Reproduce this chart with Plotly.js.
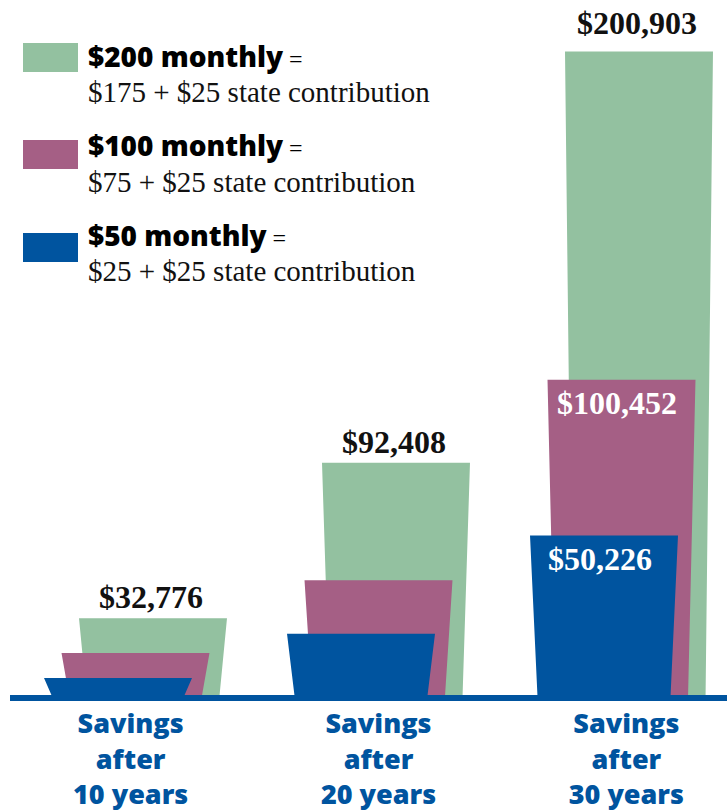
<!DOCTYPE html>
<html>
<head>
<meta charset="utf-8">
<script src="https://cdn.plot.ly/plotly-3.0.1.min.js"></script>
<style>html,body{margin:0;padding:0;background:#fff;}#chart{width:727px;height:812px;}</style>
</head>
<body>
<div id="chart"></div>
<script>
// ---- data (bar heights as drawn, labels as printed) ----
const categories = ['10 years', '20 years', '30 years'];
const tickLabels = ['Savings<br>after<br>10 years', 'Savings<br>after<br>20 years', 'Savings<br>after<br>30 years'];
const monthly200 = [23950, 72500, 200903];
const monthly100 = [13100, 35800, 98400];
const monthly50 = [5300, 19150, 49800];
const labels200 = ['$32,776', '$92,408', '$200,903'];
const labels100 = ['', '', '$100,452'];
const labels50 = ['', '', '$50,226'];
const seriesNames = ['$200 monthly', '$100 monthly', '$50 monthly'];
const seriesSub = ['$175 + $25 state contribution', '$75 + $25 state contribution', '$25 + $25 state contribution'];

// ---- styling ----
const GREEN = '#93c1a0', PURPLE = '#a55f85', BLUE = '#00549f';
const W = 727, H = 812, ML = 10, MB = 117;
const PW = W - ML, PH = H - MB;
const STEP = 0.072, HALF_TOP = 0.3045, HALF_BOT = 0.274;
const SANS = 'Open Sans';
const topLabelLift = [0, 0, 8];

function trapezoids(values, offset, color, name) {
  const xs = [], ys = [];
  values.forEach((v, i) => {
    const c = i + offset;
    xs.push(c - HALF_BOT, c - HALF_TOP, c + HALF_TOP, c + HALF_BOT, c - HALF_BOT, null);
    ys.push(0, v, v, 0, 0, null);
  });
  return {
    type: 'scatter', mode: 'lines', x: xs, y: ys, fill: 'toself',
    fillcolor: color, line: {width: 0, color: color}, name: name,
    hoverinfo: 'skip', showlegend: false
  };
}

const traces = [
  trapezoids(monthly200, STEP, GREEN, seriesNames[0]),
  trapezoids(monthly100, 0, PURPLE, seriesNames[1]),
  trapezoids(monthly50, -STEP, BLUE, seriesNames[2])
];

const serifBold = {family: 'Liberation Serif', size: 32, color: '#111', weight: 'bold'};
const annotations = [];
labels200.forEach((t, i) => {
  if (!t) return;
  annotations.push({x: i + STEP - 0.01, y: monthly200[i], xref: 'x', yref: 'y', text: t, showarrow: false,
    xanchor: 'center', yanchor: 'bottom', yshift: 1 + topLabelLift[i], font: serifBold});
});
labels100.forEach((t, i) => {
  if (!t) return;
  annotations.push({x: i - 0.02, y: monthly100[i], xref: 'x', yref: 'y', text: t, showarrow: false,
    xanchor: 'center', yanchor: 'top', yshift: -3, font: Object.assign({}, serifBold, {color: '#fff'})});
});
labels50.forEach((t, i) => {
  if (!t) return;
  annotations.push({x: i - STEP - 0.015, y: monthly50[i], xref: 'x', yref: 'y', text: t, showarrow: false,
    xanchor: 'center', yanchor: 'top', yshift: -3, font: Object.assign({}, serifBold, {color: '#fff'})});
});

// legend built from shapes + annotations (pixel helpers)
const px = x => (x - ML) / PW;
const py = y => 1 - y / PH;
const legendColors = [GREEN, PURPLE, BLUE];
const swatchTop = [43, 140, 233];
const line1Y = [56, 145, 235];
const line2Y = [92, 182, 271];
const shapes = [];
legendColors.forEach((c, k) => {
  shapes.push({type: 'rect', xref: 'paper', yref: 'paper', x0: px(23), x1: px(78),
    y0: py(swatchTop[k]), y1: py(swatchTop[k] + 29), fillcolor: c, line: {width: 0}});
  annotations.push({xref: 'paper', yref: 'paper', x: px(86), y: py(line1Y[k]), xanchor: 'left', yanchor: 'middle',
    showarrow: false, align: 'left',
    text: seriesNames[k] + '<span style="font-family:Liberation Serif;font-weight:normal;font-size:24px"> =</span>',
    font: {family: SANS, size: 28, color: '#000', weight: 800}});
  annotations.push({xref: 'paper', yref: 'paper', x: px(86), y: py(line2Y[k]), xanchor: 'left', yanchor: 'middle',
    showarrow: false, align: 'left', text: seriesSub[k],
    font: {family: 'Liberation Serif', size: 29, color: '#111'}});
});

const layout = {
  width: W, height: H,
  margin: {l: ML, r: 0, t: 0, b: MB, pad: 0},
  paper_bgcolor: '#fff', plot_bgcolor: '#fff',
  showlegend: false,
  xaxis: {
    range: [-(135.5 - ML) / 243, (W - 135.5) / 243],
    tickvals: [-0.02, 1, 2.02], ticktext: tickLabels,
    tickfont: {family: SANS, size: 27, color: BLUE, weight: 800},
    ticks: '', showgrid: false, zeroline: false,
    showline: true, linecolor: BLUE, linewidth: 6, fixedrange: true
  },
  yaxis: {range: [0, 217000], visible: false, fixedrange: true},
  shapes: shapes,
  annotations: annotations
};

Plotly.newPlot('chart', traces, layout, {displayModeBar: false, staticPlot: true});
</script>
</body>
</html>
